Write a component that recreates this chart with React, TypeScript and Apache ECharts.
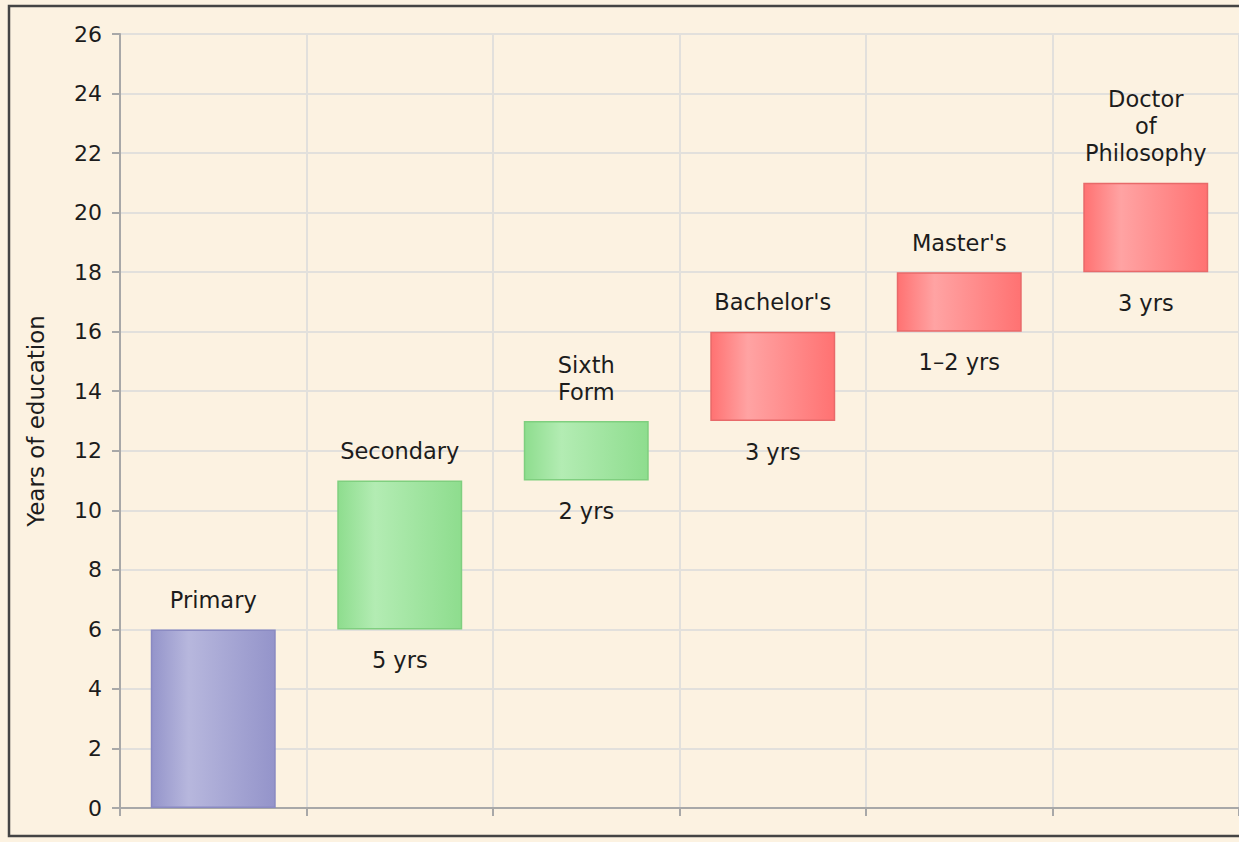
import React, { useEffect, useRef } from "react";
import * as echarts from "echarts";

const categories = ["Primary", "Secondary", "Sixth\nForm", "Bachelor's", "Master's", "Doctor\nof\nPhilosophy"];
const startYears = [0, 6, 11, 13, 16, 18];
const endYears = [6, 11, 13, 16, 18, 21];
const durationLabels = ["", "5 yrs", "2 yrs", "3 yrs", "1\u20132 yrs", "3 yrs"];
const levelGroups = ["primary", "secondary", "secondary", "higher", "higher", "higher"];

const palette: Record<string, { edge: string; light: string; border: string }> = {
  primary: { edge: "#9494ca", light: "#b7b7dd", border: "#8a8ac2" },
  secondary: { edge: "#8edd8e", light: "#b3ecb3", border: "#7fcf7f" },
  higher: { edge: "#ff7272", light: "#ffa3a3", border: "#e86a6a" },
};

const FONT = "DejaVu Sans";

export default function App() {
  const ref = useRef<HTMLDivElement>(null);
  useEffect(() => {
    if (!ref.current) return;
    const chart = echarts.init(ref.current, null, { renderer: "svg" });
    const spans = endYears.map((e, i) => e - startYears[i]);
    const option = {
      animation: false,
      backgroundColor: "#fcf2e1",
      graphic: [
        {
          type: "rect",
          shape: { x: 9, y: 6, width: 1260, height: 830 },
          style: { fill: "none", stroke: "#444444", lineWidth: 2.5 },
          z: 100,
        },
      ],
      grid: { left: 120, top: 34, width: 1122, height: 774 },
      xAxis: {
        type: "category",
        data: categories,
        axisLabel: { show: false },
        axisLine: { show: true, lineStyle: { color: "#a8a8a8", width: 2 } },
        axisTick: { show: true, length: 8, lineStyle: { color: "#a8a8a8", width: 2 } },
        splitLine: { show: true, interval: 0, lineStyle: { color: "#e2e0dc", width: 2 } },
      },
      yAxis: {
        type: "value",
        min: 0,
        max: 26,
        interval: 2,
        name: "Years of education",
        nameLocation: "middle",
        nameGap: 73,
        nameTextStyle: { fontFamily: FONT, fontSize: 23, color: "#1c1c1c" },
        axisLine: { show: true, lineStyle: { color: "#a8a8a8", width: 2 } },
        axisTick: { show: true, length: 8, lineStyle: { color: "#a8a8a8", width: 2 } },
        axisLabel: { fontFamily: FONT, fontSize: 22, color: "#1c1c1c", margin: 18 },
        splitLine: { show: true, lineStyle: { color: "#e2e0dc", width: 2 } },
      },
      series: [
        {
          type: "bar",
          stack: "edu",
          data: startYears,
          barWidth: "67%",
          itemStyle: { color: "transparent" },
          label: {
            show: true,
            position: "insideTop",
            distance: 17,
            fontFamily: FONT,
            fontSize: 22.5,
            lineHeight: 27,
            color: "#1c1c1c",
            formatter: (p: any) => durationLabels[p.dataIndex],
          },
          silent: true,
        },
        {
          type: "bar",
          stack: "edu",
          barWidth: "67%",
          data: spans.map((v, i) => {
            const c = palette[levelGroups[i]];
            return {
              value: v,
              itemStyle: {
                color: new echarts.graphic.LinearGradient(0, 0, 1, 0, [
                  { offset: 0, color: c.edge },
                  { offset: 0.3, color: c.light },
                  { offset: 1, color: c.edge },
                ]),
                borderColor: c.border,
                borderWidth: 1.5,
              },
            };
          }),
          label: {
            show: true,
            position: "top",
            distance: 16,
            fontFamily: FONT,
            fontSize: 22.5,
            lineHeight: 27,
            color: "#1c1c1c",
            align: "center",
            formatter: (p: any) => categories[p.dataIndex],
          },
        },
      ],
    };
    chart.setOption(option as any);
    return () => chart.dispose();
  }, []);
  return (
    <div
      ref={ref}
      style={{ position: "fixed", left: 0, top: 0, width: 1239, height: 842, overflow: "hidden" }}
    />
  );
}
